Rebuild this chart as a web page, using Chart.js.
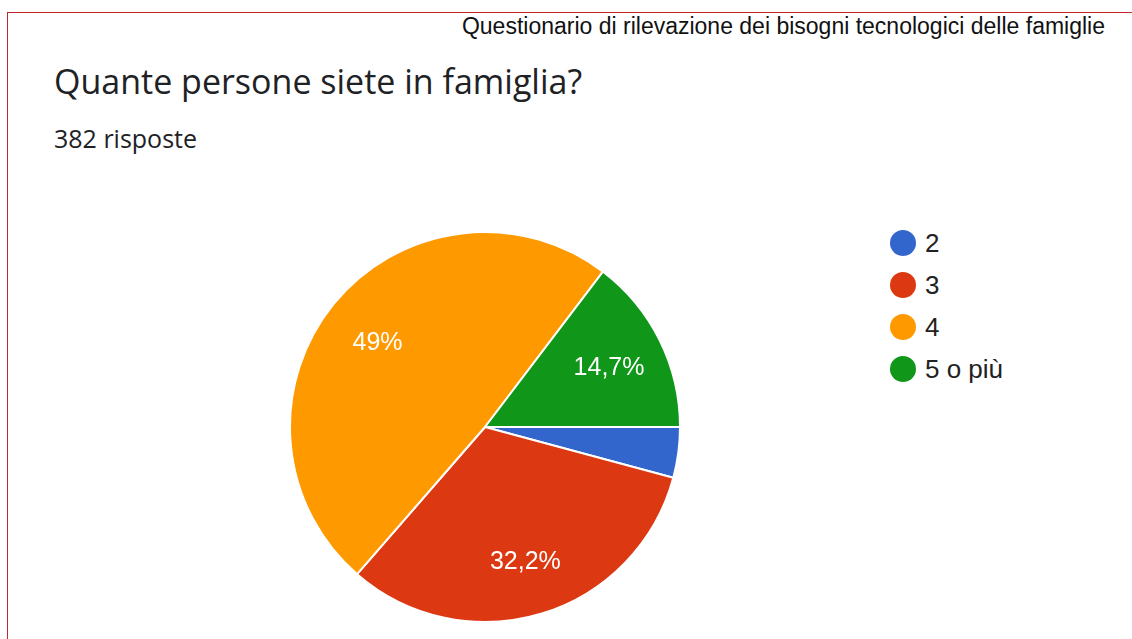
<!DOCTYPE html>
<html>
<head>
<meta charset="utf-8">
<script src="https://cdn.jsdelivr.net/npm/chart.js@4"></script>
<style>
  body { margin: 0; width: 1132px; height: 639px; background: #fff; position: relative; overflow: hidden; }
  .frame { position: absolute; left: 7px; top: 12px; width: 1140px; height: 700px; border-top: 1px solid #c0272d; border-left: 1px solid #c0272d; }
  .header { position: absolute; right: 27px; top: 13px; font: 23px "Liberation Sans", Arial, sans-serif; color: #111; }
  .title { position: absolute; left: 54px; top: 58px; font: 34px "Open Sans", sans-serif; color: #202124; }
  .count { position: absolute; left: 54px; top: 121px; font: 25px "Open Sans", sans-serif; color: #202124; }
  .chart-box { position: absolute; left: 289px; top: 231px; width: 392px; height: 392px; }
  .legend { position: absolute; left: 890px; top: 222px; font: 26px "Liberation Sans", Arial, sans-serif; color: #222; }
  .legend div { height: 42px; display: flex; align-items: center; }
  .legend span.dot { width: 26px; height: 26px; border-radius: 50%; display: inline-block; margin-right: 9px; }
</style>
</head>
<body>
<div class="frame"></div>
<div class="header">Questionario di rilevazione dei bisogni tecnologici delle famiglie</div>
<div class="title">Quante persone siete in famiglia?</div>
<div class="count">382 risposte</div>
<div class="chart-box"><canvas id="pieChart"></canvas></div>
<div class="legend" id="legend"></div>
<script>
const categories = ['2', '3', '4', '5 o più'];
const answers = [16, 123, 187, 56];
const colors = ['#3366cc', '#dc3912', '#ff9900', '#109618'];

const total = answers.reduce((a, b) => a + b, 0);

function formatPct(v) {
  const pct = Math.round(v / total * 1000) / 10;
  return String(pct).replace('.', ',') + '%';
}

// labels inside slices, like google forms (small slices get no label)
const sliceLabels = {
  id: 'sliceLabels',
  afterDatasetsDraw(chart) {
    const ctx = chart.ctx;
    const meta = chart.getDatasetMeta(0);
    ctx.save();
    ctx.fillStyle = '#fff';
    ctx.font = '25px "Liberation Sans", Arial, sans-serif';
    ctx.textAlign = 'center';
    ctx.textBaseline = 'middle';
    meta.data.forEach((arc, i) => {
      const v = answers[i];
      if (v / total < 0.05) return;
      const mid = (arc.startAngle + arc.endAngle) / 2;
      const r = arc.outerRadius * 0.71;
      ctx.fillText(formatPct(v), arc.x + Math.cos(mid) * r, arc.y + Math.sin(mid) * r + 3);
    });
    ctx.restore();
  }
};

new Chart(document.getElementById('pieChart').getContext('2d'), {
  type: 'pie',
  data: {
    labels: categories,
    datasets: [{
      data: answers,
      backgroundColor: colors,
      borderColor: '#fff',
      borderWidth: 2,
      hoverOffset: 0
    }]
  },
  options: {
    responsive: true,
    maintainAspectRatio: false,
    animation: false,
    rotation: 90,
    plugins: {
      legend: { display: false },
      tooltip: { enabled: false }
    }
  },
  plugins: [sliceLabels]
});

const legendEl = document.getElementById('legend');
categories.forEach((c, i) => {
  const row = document.createElement('div');
  row.innerHTML = `<span class="dot" style="background:${colors[i]}"></span>${c}`;
  legendEl.appendChild(row);
});
</script>
</body>
</html>
